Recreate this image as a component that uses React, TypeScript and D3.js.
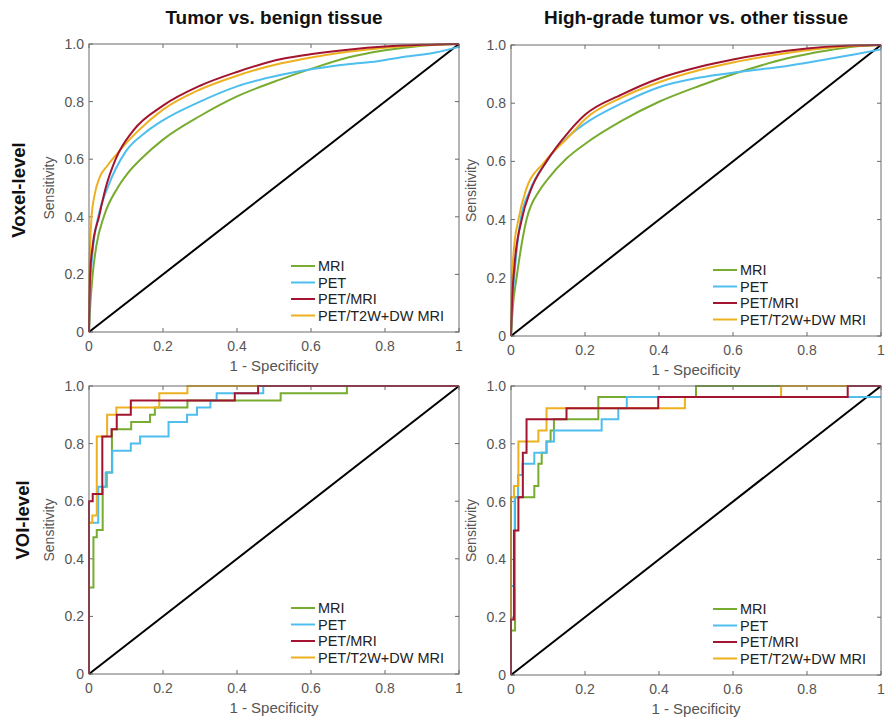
import React from 'react';
import * as d3 from 'd3';

const W = 888;
const H = 721;

const seriesNames = ['MRI', 'PET', 'PET/MRI', 'PET/T2W+DW MRI'];
const seriesColors = ['#77AC30', '#4DBEEE', '#A2142F', '#EDB120'];
const drawOrder = [0, 1, 3, 2];

const xTicks = [0, 0.2, 0.4, 0.6, 0.8, 1];
const xTickLabels = ['0', '0.2', '0.4', '0.6', '0.8', '1'];
const yTicks = [0, 0.2, 0.4, 0.6, 0.8, 1];
const yTickLabels = ['0', '0.2', '0.4', '0.6', '0.8', '1.0'];

const columnTitles = ['Tumor vs. benign tissue', 'High-grade tumor vs. other tissue'];
const rowTitles = ['Voxel-level', 'VOI-level'];

type Pt = [number, number];

// Voxel-level, tumor vs benign (smooth ROC curves)
const voxelBenignMRI: Pt[] = [[0,0],[0.002,0.06],[0.01,0.2],[0.02,0.3],[0.04,0.4],[0.077,0.5],[0.104,0.55],[0.144,0.605],[0.2,0.668],[0.3,0.75],[0.4,0.818],[0.52,0.878],[0.608,0.917],[0.7,0.953],[0.8,0.978],[0.9,0.994],[1,1]];
const voxelBenignPET: Pt[] = [[0,0],[0.003,0.15],[0.01,0.28],[0.025,0.4],[0.05,0.5],[0.1,0.628],[0.15,0.69],[0.2,0.735],[0.3,0.8],[0.4,0.853],[0.52,0.893],[0.608,0.914],[0.7,0.93],[0.78,0.94],[0.85,0.955],[0.94,0.971],[1,0.99]];
const voxelBenignPETMRI: Pt[] = [[0,0],[0.003,0.2],[0.01,0.3],[0.027,0.4],[0.045,0.5],[0.072,0.6],[0.12,0.7],[0.2,0.786],[0.3,0.855],[0.4,0.903],[0.52,0.948],[0.608,0.966],[0.7,0.98],[0.8,0.991],[0.9,0.997],[1,1]];
const voxelBenignCombo: Pt[] = [[0,0],[0.001,0.2],[0.003,0.3],[0.007,0.4],[0.015,0.475],[0.03,0.54],[0.05,0.578],[0.075,0.618],[0.1,0.655],[0.13,0.695],[0.2,0.772],[0.3,0.842],[0.4,0.89],[0.52,0.933],[0.608,0.955],[0.7,0.973],[0.8,0.987],[0.9,0.996],[1,1]];

// Voxel-level, high-grade vs other (smooth ROC curves)
const voxelGradeMRI: Pt[] = [[0,0],[0.005,0.1],[0.015,0.2],[0.042,0.4],[0.077,0.5],[0.1,0.54],[0.15,0.61],[0.2,0.66],[0.3,0.74],[0.4,0.805],[0.51,0.86],[0.62,0.908],[0.75,0.955],[0.85,0.98],[0.93,0.995],[1,1]];
const voxelGradePET: Pt[] = [[0,0],[0.003,0.1],[0.01,0.22],[0.026,0.4],[0.051,0.5],[0.096,0.6],[0.15,0.68],[0.2,0.73],[0.3,0.8],[0.4,0.855],[0.51,0.888],[0.62,0.908],[0.75,0.929],[0.85,0.95],[0.92,0.966],[1,0.985]];
const voxelGradePETMRI: Pt[] = [[0,0],[0.003,0.12],[0.01,0.25],[0.029,0.4],[0.053,0.5],[0.096,0.6],[0.155,0.7],[0.2,0.76],[0.3,0.83],[0.4,0.885],[0.51,0.925],[0.6,0.95],[0.7,0.972],[0.8,0.988],[0.9,0.997],[1,1]];
const voxelGradeCombo: Pt[] = [[0,0],[0.002,0.15],[0.008,0.3],[0.02,0.4],[0.04,0.5],[0.092,0.6],[0.16,0.69],[0.2,0.745],[0.3,0.82],[0.4,0.872],[0.51,0.914],[0.6,0.94],[0.7,0.963],[0.8,0.982],[0.9,0.995],[1,1]];

// VOI-level, tumor vs benign (step ROC curves)
const voiBenignMRI: Pt[] = [[0,0],[0,0.3],[0.012,0.3],[0.012,0.475],[0.021,0.475],[0.021,0.5],[0.037,0.5],[0.037,0.65],[0.048,0.65],[0.048,0.7],[0.062,0.7],[0.062,0.85],[0.114,0.85],[0.114,0.875],[0.165,0.875],[0.165,0.9],[0.178,0.9],[0.178,0.925],[0.266,0.925],[0.266,0.95],[0.518,0.95],[0.518,0.975],[0.697,0.975],[0.697,1],[1,1]];
const voiBenignPET: Pt[] = [[0,0],[0,0.525],[0.025,0.525],[0.025,0.65],[0.045,0.65],[0.045,0.7],[0.063,0.7],[0.063,0.775],[0.113,0.775],[0.113,0.8],[0.138,0.8],[0.138,0.825],[0.215,0.825],[0.215,0.875],[0.265,0.875],[0.265,0.9],[0.292,0.9],[0.292,0.925],[0.328,0.925],[0.328,0.95],[0.345,0.95],[0.345,0.975],[0.471,0.975],[0.471,1],[1,1]];
const voiBenignPETMRI: Pt[] = [[0,0],[0,0.6],[0.01,0.6],[0.01,0.625],[0.036,0.625],[0.036,0.825],[0.061,0.825],[0.061,0.85],[0.075,0.85],[0.075,0.9],[0.113,0.9],[0.113,0.95],[0.394,0.95],[0.394,0.975],[0.457,0.975],[0.457,1],[1,1]];
const voiBenignCombo: Pt[] = [[0,0],[0,0.525],[0.009,0.525],[0.009,0.55],[0.021,0.55],[0.021,0.825],[0.049,0.825],[0.049,0.9],[0.074,0.9],[0.074,0.925],[0.19,0.925],[0.19,0.975],[0.266,0.975],[0.266,1],[1,1]];

// VOI-level, high-grade vs other (step ROC curves)
const voiGradeMRI: Pt[] = [[0,0],[0,0.154],[0.011,0.154],[0.011,0.615],[0.063,0.615],[0.063,0.654],[0.074,0.654],[0.074,0.731],[0.083,0.731],[0.083,0.769],[0.096,0.769],[0.096,0.808],[0.107,0.808],[0.107,0.846],[0.116,0.846],[0.116,0.885],[0.236,0.885],[0.236,0.962],[0.5,0.962],[0.5,1],[1,1]];
const voiGradePET: Pt[] = [[0,0],[0,0.308],[0.01,0.308],[0.01,0.615],[0.019,0.615],[0.019,0.692],[0.031,0.692],[0.031,0.731],[0.063,0.731],[0.063,0.769],[0.096,0.769],[0.096,0.808],[0.116,0.808],[0.116,0.846],[0.245,0.846],[0.245,0.885],[0.29,0.885],[0.29,0.923],[0.313,0.923],[0.313,0.962],[1,0.962]];
const voiGradePETMRI: Pt[] = [[0,0],[0,0.192],[0.008,0.192],[0.008,0.5],[0.02,0.5],[0.02,0.615],[0.032,0.615],[0.032,0.769],[0.042,0.769],[0.042,0.885],[0.15,0.885],[0.15,0.923],[0.398,0.923],[0.398,0.962],[0.91,0.962],[0.91,1],[1,1]];
const voiGradeCombo: Pt[] = [[0,0],[0,0.615],[0.008,0.615],[0.008,0.654],[0.02,0.654],[0.02,0.808],[0.074,0.808],[0.074,0.846],[0.096,0.846],[0.096,0.923],[0.47,0.923],[0.47,0.962],[0.73,0.962],[0.73,1],[1,1]];

type Panel = { left: number; top: number; right: number; bottom: number; smooth: boolean; data: Pt[][] };

const panels: Panel[] = [
  { left: 89, top: 44, right: 459, bottom: 332, smooth: true, data: [voxelBenignMRI, voxelBenignPET, voxelBenignPETMRI, voxelBenignCombo] },
  { left: 511, top: 45, right: 881, bottom: 336, smooth: true, data: [voxelGradeMRI, voxelGradePET, voxelGradePETMRI, voxelGradeCombo] },
  { left: 89, top: 386, right: 459, bottom: 674, smooth: false, data: [voiBenignMRI, voiBenignPET, voiBenignPETMRI, voiBenignCombo] },
  { left: 511, top: 386, right: 881, bottom: 675, smooth: false, data: [voiGradeMRI, voiGradePET, voiGradePETMRI, voiGradeCombo] },
];

const FONT = "'Liberation Sans', Arial, Helvetica, sans-serif";
const AXIS = '#6b6b6b';
const TICKTXT = '#555555';

function PanelView({ p }: { p: Panel }) {
  const x = d3.scaleLinear().domain([0, 1]).range([p.left, p.right]);
  const y = d3.scaleLinear().domain([0, 1]).range([p.bottom, p.top]);
  const line = d3
    .line<Pt>()
    .x((d) => x(d[0]))
    .y((d) => y(d[1]))
    .curve(p.smooth ? d3.curveMonotoneX : d3.curveLinear);
  const diag: Pt[] = [[0, 0], [1, 1]];
  const tl = 4;
  const legX = p.left + 202;
  const legY0 = p.bottom - 66;
  const legStep = 16.5;
  return (
    <g>
      {xTicks.map((t, i) => (
        <g key={'x' + i}>
          <line x1={x(t)} x2={x(t)} y1={p.bottom} y2={p.bottom - tl} stroke={AXIS} />
          <line x1={x(t)} x2={x(t)} y1={p.top} y2={p.top + tl} stroke={AXIS} />
          <text x={x(t)} y={p.bottom + 19} textAnchor="middle" fontSize={14} fill={TICKTXT} fontFamily={FONT}>
            {xTickLabels[i]}
          </text>
        </g>
      ))}
      {yTicks.map((t, i) => (
        <g key={'y' + i}>
          <line x1={p.left} x2={p.left + tl} y1={y(t)} y2={y(t)} stroke={AXIS} />
          <line x1={p.right} x2={p.right - tl} y1={y(t)} y2={y(t)} stroke={AXIS} />
          <text x={p.left - 5} y={y(t) + 5} textAnchor="end" fontSize={14} fill={TICKTXT} fontFamily={FONT}>
            {yTickLabels[i]}
          </text>
        </g>
      ))}
      <path d={line(diag) || ''} fill="none" stroke="#000" strokeWidth={2} />
      {drawOrder.map((si) => (
        <path key={si} d={line(p.data[si]) || ''} fill="none" stroke={seriesColors[si]} strokeWidth={2} strokeLinejoin="miter" />
      ))}
      <rect x={p.left} y={p.top} width={p.right - p.left} height={p.bottom - p.top} fill="none" stroke={AXIS} strokeWidth={1} />
      <text x={(p.left + p.right) / 2} y={p.bottom + 39} textAnchor="middle" fontSize={15} fill={TICKTXT} fontFamily={FONT}>
        1 - Specificity
      </text>
      <text
        transform={`translate(${p.left - 35},${(p.top + p.bottom) / 2}) rotate(-90)`}
        textAnchor="middle"
        fontSize={14}
        fill={TICKTXT}
        fontFamily={FONT}
      >
        Sensitivity
      </text>
      {seriesNames.map((n, i) => (
        <g key={n}>
          <line x1={legX} x2={legX + 24} y1={legY0 + i * legStep} y2={legY0 + i * legStep} stroke={seriesColors[i]} strokeWidth={2} />
          <text x={legX + 27} y={legY0 + i * legStep + 5} fontSize={14.5} fill="#222" fontFamily={FONT}>
            {n}
          </text>
        </g>
      ))}
    </g>
  );
}

export default function App() {
  return (
    <svg
      width={W}
      height={H}
      viewBox={`0 0 ${W} ${H}`}
      style={{ position: 'absolute', left: 0, top: 0, display: 'block', background: '#fff' }}
    >
      <rect x={0} y={0} width={W} height={H} fill="#fff" />
      {panels.map((p, i) => (
        <PanelView key={i} p={p} />
      ))}
      <text x={274} y={24} textAnchor="middle" fontSize={19} fontWeight="bold" fill="#111" fontFamily={FONT}>
        {columnTitles[0]}
      </text>
      <text x={696} y={24} textAnchor="middle" fontSize={19} fontWeight="bold" fill="#111" fontFamily={FONT}>
        {columnTitles[1]}
      </text>
      <text transform={`translate(25,190) rotate(-90)`} textAnchor="middle" fontSize={18.5} fontWeight="bold" fill="#111" fontFamily={FONT}>
        {rowTitles[0]}
      </text>
      <text transform={`translate(29,520) rotate(-90)`} textAnchor="middle" fontSize={18.5} fontWeight="bold" fill="#111" fontFamily={FONT}>
        {rowTitles[1]}
      </text>
    </svg>
  );
}
